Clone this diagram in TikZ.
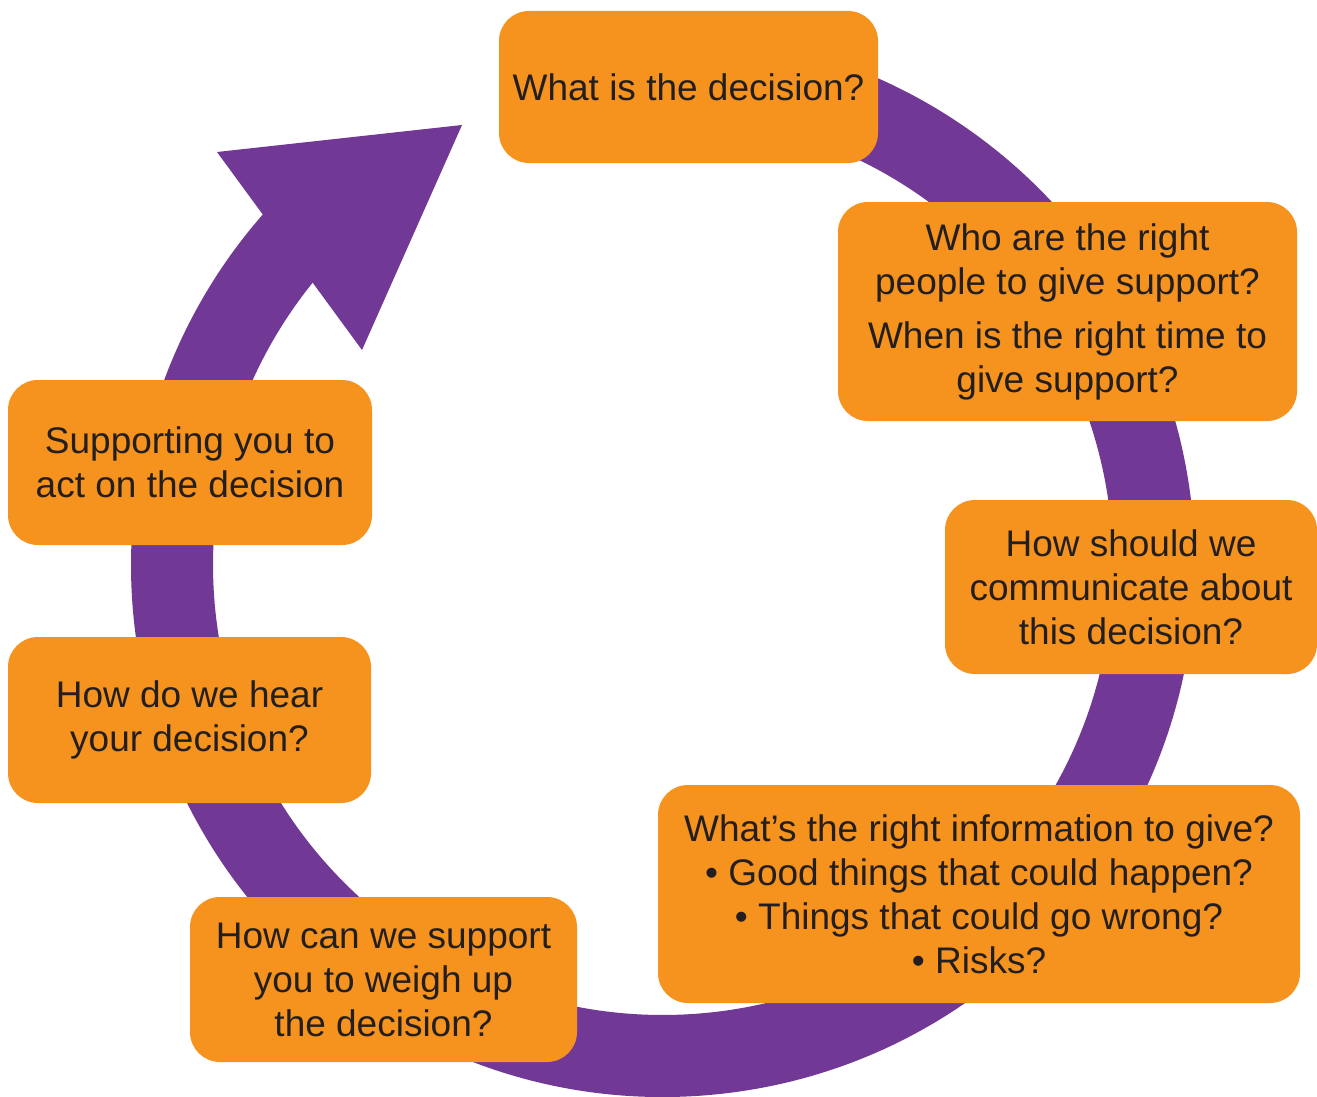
\documentclass[tikz,border=0pt]{standalone}
\usepackage{fontspec}
\setmainfont{Liberation Sans}
\definecolor{ringpurple}{HTML}{713896}
\definecolor{boxorange}{HTML}{F6921E}
\definecolor{txtdark}{HTML}{231F20}
\begin{document}
\begin{tikzpicture}[x=1pt,y=-1pt,
  stepbox/.style={fill=boxorange, rounded corners=30pt, inner sep=0pt, align=center,
    text=txtdark, font=\fontsize{37}{44}\selectfont},
  ringfill/.style={fill=ringpurple}
]
\useasboundingbox[fill=white] (0,0) rectangle (1317,1097);
% ring with arrow
\fill[ringfill, shift={(663,565)}] (-95:532) arc[start angle=-95, end angle=222, radius=532]
  -- (219.5:450) arc[start angle=219.5, end angle=-95, radius=450] -- cycle;
\fill[ringfill] (462,125) -- (217,152) -- (362,350) -- cycle;
% boxes
\node[stepbox, minimum width=379pt, minimum height=152pt] (n1) at (688.5,87) {What is the decision?};
\node[stepbox, minimum width=459pt, minimum height=219pt] (n2) at (1067.5,311.5)
  {Who are the right\\people to give support?\\[10pt]When is the right time to\\give support?};
\node[stepbox, minimum width=372pt, minimum height=174pt] (n3) at (1131,587)
  {How should we\\communicate about\\this decision?};
\node[stepbox, minimum width=642pt, minimum height=218pt] (n4) at (979,894)
  {What’s the right information to give?\\• Good things that could happen?\\• Things that could go wrong?\\• Risks?};
\node[stepbox, minimum width=387pt, minimum height=165pt] (n5) at (383.5,979.5)
  {How can we support\\you to weigh up\\the decision?};
\node[stepbox, minimum width=363pt, minimum height=166pt] (n6) at (189.5,720)
  {How do we hear\\your decision?};
\node[stepbox, minimum width=364pt, minimum height=165pt] (n7) at (190,462.5)
  {Supporting you to\\act on the decision};
\end{tikzpicture}
\end{document}
